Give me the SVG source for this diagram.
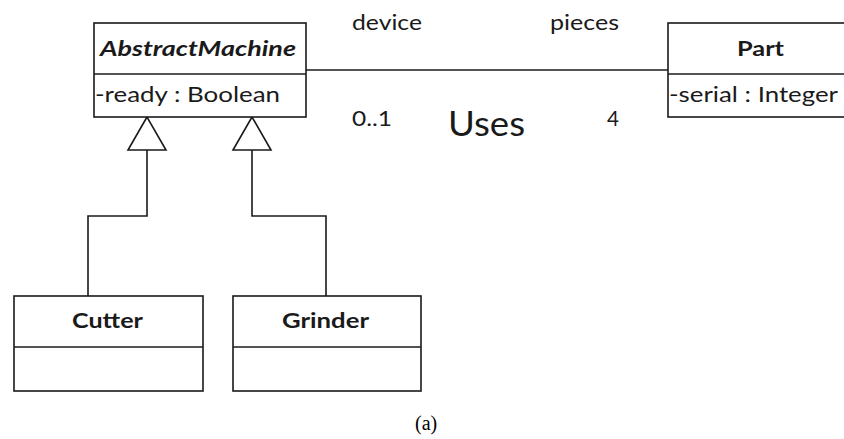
<svg xmlns="http://www.w3.org/2000/svg" width="844" height="439" viewBox="0 0 844 439">
<style>
.box{fill:#fff;stroke:#1a1a1a;stroke-width:1.6}
.ln{fill:none;stroke:#1a1a1a;stroke-width:1.6}
.tri{fill:#fff;stroke:#1a1a1a;stroke-width:1.6;stroke-linejoin:miter}
text{font-family:Lato,"Open Sans","Liberation Sans",sans-serif;fill:#1a1a1a}
.t{font-size:21px}
.b{font-size:21px;font-weight:bold}
.bi{font-size:21px;font-weight:bold;font-style:italic}
.cap{font-family:"Liberation Serif",serif;font-size:20px;fill:#000}
</style>
<rect width="844" height="439" fill="#fff"/>
<g id="connectors">
<line class="ln" x1="306" y1="70" x2="668" y2="70"/>
<polyline class="ln" points="147,150 147,216 88,216 88,296"/>
<polyline class="ln" points="252,150 252,216 326,216 326,296"/>
<polygon class="tri" points="147,117 128,150 166,150"/>
<polygon class="tri" points="252,117 233,150 271,150"/>
<text class="t" x="352" y="30" textLength="70" lengthAdjust="spacingAndGlyphs">device</text>
<text class="t" x="550" y="30" textLength="69" lengthAdjust="spacingAndGlyphs">pieces</text>
<text class="t" x="352" y="126" textLength="40" lengthAdjust="spacingAndGlyphs">0..1</text>
<text class="t" x="607" y="126" textLength="12" lengthAdjust="spacingAndGlyphs">4</text>
<text x="448" y="136" style="font-size:35px" textLength="77" lengthAdjust="spacingAndGlyphs">Uses</text>
</g>
<g id="AbstractMachine">
<rect class="box" x="94" y="23" width="212" height="94"/>
<line class="ln" x1="94" y1="74" x2="306" y2="74"/>
<text class="bi" x="100" y="56" textLength="196" lengthAdjust="spacingAndGlyphs">AbstractMachine</text>
<text class="t" x="95" y="102" textLength="185" lengthAdjust="spacingAndGlyphs">-ready : Boolean</text>
</g>
<g id="Part">
<rect class="box" x="668" y="23" width="190" height="94"/>
<line class="ln" x1="668" y1="74" x2="858" y2="74"/>
<text class="b" x="737" y="56" textLength="47" lengthAdjust="spacingAndGlyphs">Part</text>
<text class="t" x="669" y="102" textLength="169" lengthAdjust="spacingAndGlyphs">-serial : Integer</text>
</g>
<g id="Cutter">
<rect class="box" x="14" y="296" width="189" height="95"/>
<line class="ln" x1="14" y1="347" x2="203" y2="347"/>
<text class="b" x="72" y="328" textLength="71" lengthAdjust="spacingAndGlyphs">Cutter</text>
</g>
<g id="Grinder">
<rect class="box" x="233" y="296" width="188" height="95"/>
<line class="ln" x1="233" y1="347" x2="421" y2="347"/>
<text class="b" x="282" y="328" textLength="87" lengthAdjust="spacingAndGlyphs">Grinder</text>
</g>
<text class="cap" x="415" y="430">(a)</text>
</svg>
